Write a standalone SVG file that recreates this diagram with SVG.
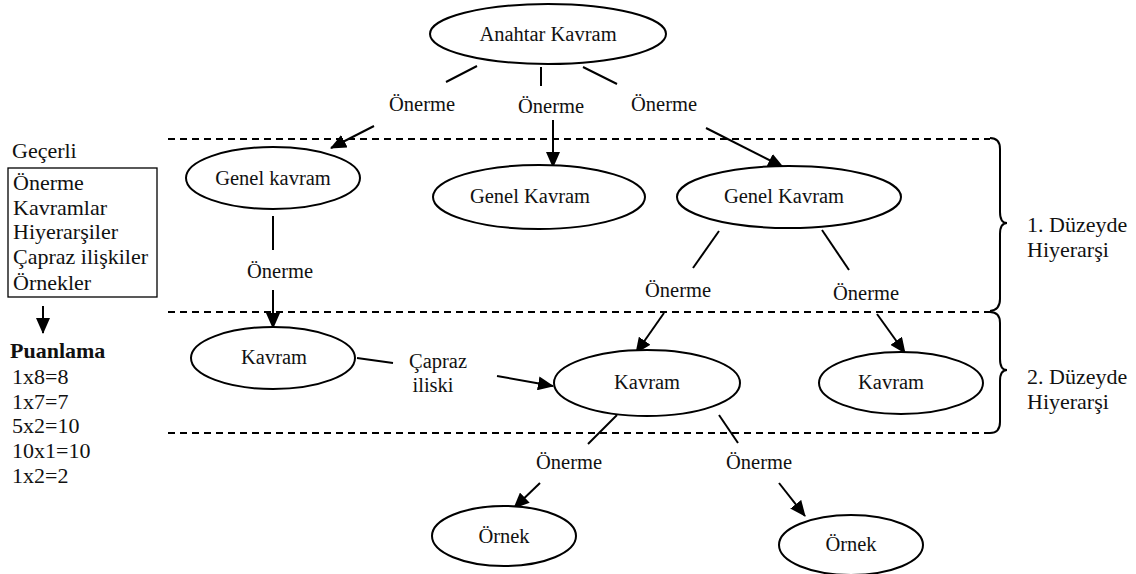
<svg xmlns="http://www.w3.org/2000/svg" width="1136" height="574" viewBox="0 0 1136 574" font-family="'Liberation Serif', 'DejaVu Serif', serif">
  <style>
    text { font-family: "Liberation Serif", "DejaVu Serif", serif; fill: #111; }
    .n { font-size: 20.5px; text-anchor: middle; }
    .lab { font-size: 20.5px; text-anchor: middle; }
    .side { font-size: 22px; }
    .node ellipse { fill: #fff; stroke: #000; stroke-width: 2; }
    .line { stroke: #000; stroke-width: 2; fill: none; }
    .dash { stroke: #000; stroke-width: 2; stroke-dasharray: 7 5; fill: none; }
    .brace { stroke: #000; stroke-width: 2; fill: none; }
  </style>
  <defs>
    <marker id="ah" markerUnits="userSpaceOnUse" markerWidth="16" markerHeight="14" refX="15" refY="7" orient="auto">
      <path d="M0,0 L16,7 L0,14 Z" fill="#000"/>
    </marker>
  </defs>

  <rect width="1136" height="574" fill="#fff"/>

  <!-- level separators and braces -->
  <g id="levels">
    <path class="dash" d="M168,139 H990"/>
    <path class="dash" d="M168,312 H990"/>
    <path class="dash" d="M168,433 H990"/>
    <path class="brace" d="M990,138 Q1000,138 1000,149 V212 Q1000,223 1007,223 Q1000,223 1000,234 V299 Q1000,310 990,311"/>
    <path class="brace" d="M990,312 Q1000,312 1000,323 V359 Q1000,370 1007,370 Q1000,370 1000,381 V422 Q1000,433 990,433"/>
    <text class="side" x="1027" y="232">1. Düzeyde</text>
    <text class="side" x="1027" y="257">Hiyerarşi</text>
    <text class="side" x="1027" y="384">2. Düzeyde</text>
    <text class="side" x="1027" y="409">Hiyerarşi</text>
  </g>

  <!-- legend on the left -->
  <g id="legend">
    <text class="side" x="12" y="158">Geçerli</text>
    <rect x="8" y="168" width="149" height="129" fill="none" stroke="#000" stroke-width="1.3"/>
    <text class="side" x="13" y="190">Önerme</text>
    <text class="side" x="13" y="215">Kavramlar</text>
    <text class="side" x="13" y="239">Hiyerarşiler</text>
    <text class="side" x="13" y="264">Çapraz ilişkiler</text>
    <text class="side" x="13" y="290">Örnekler</text>
    <line class="line" x1="43" y1="306" x2="43" y2="333" marker-end="url(#ah)"/>
    <text class="side" x="10" y="358" font-weight="bold">Puanlama</text>
    <text class="side" x="12" y="384">1x8=8</text>
    <text class="side" x="12" y="409">1x7=7</text>
    <text class="side" x="12" y="433">5x2=10</text>
    <text class="side" x="12" y="458">10x1=10</text>
    <text class="side" x="12" y="483">1x2=2</text>
  </g>

  <!-- connectors -->
  <g id="connectors">
    <line class="line" x1="477" y1="66" x2="446" y2="82"/>
    <line class="line" x1="541" y1="67" x2="541" y2="86"/>
    <line class="line" x1="583" y1="67" x2="617" y2="84"/>
    <text class="lab" x="422" y="111">Önerme</text>
    <text class="lab" x="551" y="113">Önerme</text>
    <text class="lab" x="664" y="111">Önerme</text>
    <line class="line" x1="374" y1="126" x2="331" y2="148" marker-end="url(#ah)"/>
    <line class="line" x1="553" y1="120" x2="553" y2="167" marker-end="url(#ah)"/>
    <line class="line" x1="706" y1="128" x2="783" y2="167" marker-end="url(#ah)"/>

    <line class="line" x1="273" y1="216" x2="273" y2="250"/>
    <text class="lab" x="280" y="278">Önerme</text>
    <line class="line" x1="273" y1="290" x2="273" y2="328" marker-end="url(#ah)"/>

    <line class="line" x1="719" y1="231" x2="693" y2="268"/>
    <text class="lab" x="678" y="297">Önerme</text>
    <line class="line" x1="664" y1="313" x2="636" y2="353" marker-end="url(#ah)"/>
    <line class="line" x1="822" y1="230" x2="849" y2="270"/>
    <text class="lab" x="866" y="300">Önerme</text>
    <line class="line" x1="877" y1="314" x2="905" y2="353" marker-end="url(#ah)"/>

    <line class="line" x1="357" y1="358" x2="393" y2="363"/>
    <text class="lab" x="438" y="368">Çapraz</text>
    <text class="lab" x="433" y="392">iliski</text>
    <line class="line" x1="497" y1="376" x2="553" y2="386" marker-end="url(#ah)"/>

    <line class="line" x1="617" y1="415" x2="588" y2="444"/>
    <text class="lab" x="569" y="469">Önerme</text>
    <line class="line" x1="540" y1="483" x2="514" y2="508" marker-end="url(#ah)"/>
    <line class="line" x1="719" y1="415" x2="738" y2="443"/>
    <text class="lab" x="759" y="469">Önerme</text>
    <line class="line" x1="779" y1="483" x2="805" y2="516" marker-end="url(#ah)"/>
  </g>

  <!-- concept nodes -->
  <g id="anahtar-kavram" class="node">
    <ellipse cx="548" cy="34" rx="118" ry="30"/>
    <text class="n" x="548" y="41">Anahtar Kavram</text>
  </g>
  <g id="genel-kavram-1" class="node">
    <ellipse cx="273" cy="178" rx="87" ry="31"/>
    <text class="n" x="273" y="185">Genel kavram</text>
  </g>
  <g id="genel-kavram-2" class="node">
    <ellipse cx="539" cy="197" rx="106" ry="32"/>
    <text class="n" x="530" y="203">Genel Kavram</text>
  </g>
  <g id="genel-kavram-3" class="node">
    <ellipse cx="789" cy="197" rx="112" ry="31"/>
    <text class="n" x="784" y="203">Genel Kavram</text>
  </g>
  <g id="kavram-1" class="node">
    <ellipse cx="273" cy="358" rx="82" ry="31"/>
    <text class="n" x="274" y="364">Kavram</text>
  </g>
  <g id="kavram-2" class="node">
    <ellipse cx="647" cy="383" rx="93" ry="33"/>
    <text class="n" x="647" y="389">Kavram</text>
  </g>
  <g id="kavram-3" class="node">
    <ellipse cx="901" cy="383" rx="82" ry="31"/>
    <text class="n" x="891" y="389">Kavram</text>
  </g>
  <g id="ornek-1" class="node">
    <ellipse cx="504" cy="536" rx="72" ry="30"/>
    <text class="n" x="504" y="543">Örnek</text>
  </g>
  <g id="ornek-2" class="node">
    <ellipse cx="851" cy="545" rx="72" ry="30"/>
    <text class="n" x="851" y="551">Örnek</text>
  </g>
</svg>
